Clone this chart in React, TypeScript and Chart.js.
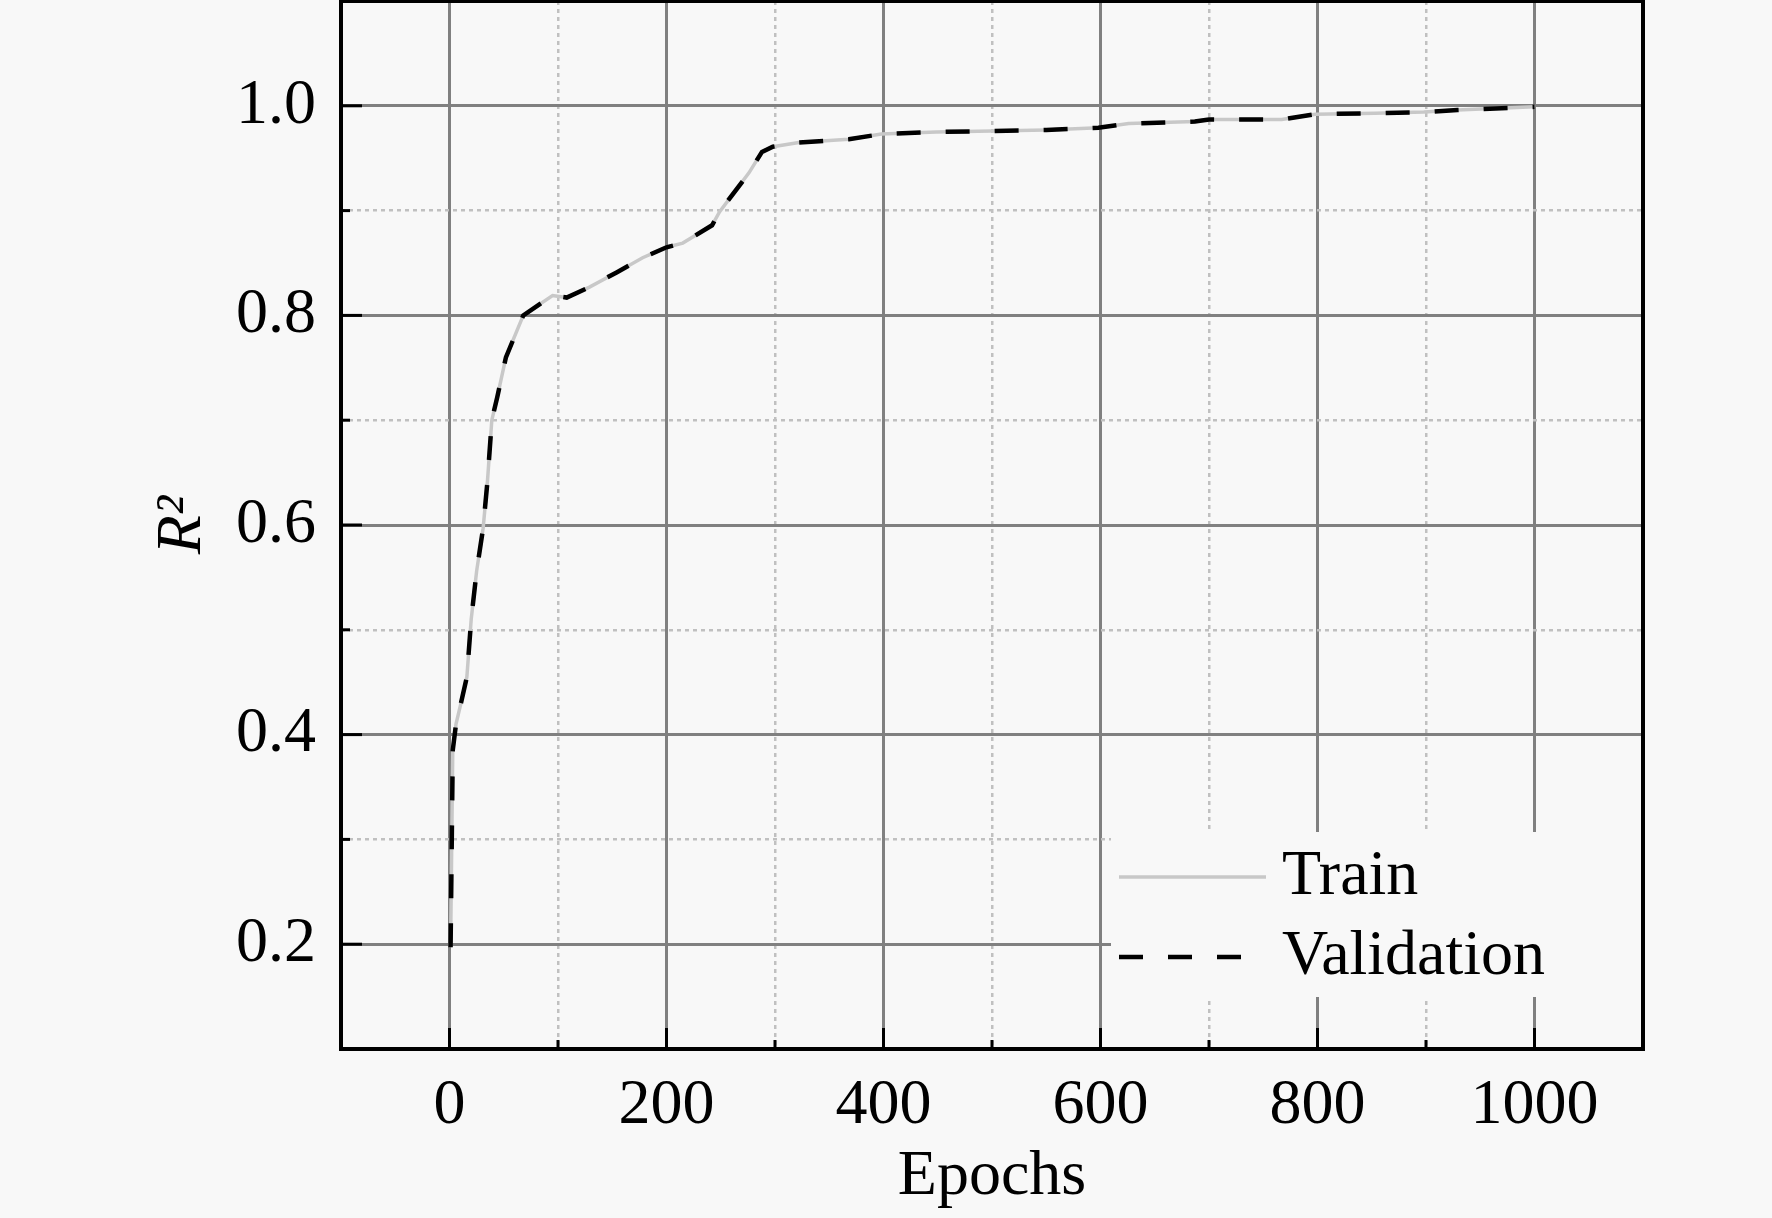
import { useEffect, useRef } from 'react';
import { Chart, registerables } from 'chart.js';
import type { Plugin } from 'chart.js';

Chart.register(...registerables);

// values
const epochs = [1, 2, 3, 6, 11, 16, 20, 25, 31, 35, 39, 44, 52, 68, 95, 108, 129, 154, 178, 200, 215, 242, 249, 276, 288, 298, 322, 368, 398, 449, 500, 550, 598, 626, 687, 700, 767, 798, 853, 898, 929, 1000];
const trainR2 = [0.197, 0.29, 0.385, 0.41, 0.432, 0.455, 0.51, 0.556, 0.597, 0.642, 0.7, 0.722, 0.76, 0.8, 0.819, 0.817, 0.827, 0.841, 0.855, 0.865, 0.869, 0.886, 0.899, 0.936, 0.956, 0.961, 0.965, 0.968, 0.973, 0.975, 0.976, 0.977, 0.979, 0.983, 0.985, 0.987, 0.987, 0.992, 0.993, 0.994, 0.996, 0.999];
const valR2 = [0.197, 0.29, 0.385, 0.41, 0.432, 0.455, 0.51, 0.556, 0.597, 0.642, 0.7, 0.722, 0.76, 0.8, 0.819, 0.817, 0.827, 0.841, 0.855, 0.865, 0.869, 0.886, 0.899, 0.936, 0.956, 0.961, 0.965, 0.968, 0.973, 0.975, 0.976, 0.977, 0.979, 0.983, 0.985, 0.987, 0.987, 0.992, 0.993, 0.994, 0.996, 0.999];

const xMajorTicks = [0, 200, 400, 600, 800, 1000];
const yMajorTicks = [0.2, 0.4, 0.6, 0.8, 1.0];
const xRange = [-100, 1100];
const yRange = [0.1, 1.1];

const FONT = "'Liberation Serif', 'Times New Roman', serif";
const BG = '#f8f8f8';

const near = (list: number[], v: number) => list.some((m) => Math.abs(m - v) < 1e-6);
const isEdge = (range: number[], v: number) => Math.abs(v - range[0]) < 1e-6 || Math.abs(v - range[1]) < 1e-6;

// inward ticks, frame and the legend inside the plot
const framePlugin: Plugin<'line'> = {
  id: 'frame',
  afterDraw(chart) {
    const { ctx, chartArea, scales } = chart;
    const { left, right, top, bottom } = chartArea;
    ctx.save();
    ctx.strokeStyle = '#000';
    ctx.lineWidth = 3;
    ctx.lineCap = 'butt';
    for (const t of scales.y.ticks) {
      if (isEdge(yRange, t.value)) continue;
      const len = near(yMajorTicks, t.value) ? 21 : 9;
      const py = scales.y.getPixelForValue(t.value);
      ctx.beginPath();
      ctx.moveTo(left, py);
      ctx.lineTo(left + len, py);
      ctx.stroke();
    }
    for (const t of scales.x.ticks) {
      if (isEdge(xRange, t.value)) continue;
      const len = near(xMajorTicks, t.value) ? 21 : 9;
      const px = scales.x.getPixelForValue(t.value);
      ctx.beginPath();
      ctx.moveTo(px, bottom);
      ctx.lineTo(px, bottom - len);
      ctx.stroke();
    }

    // legend
    const boxL = right - 532;
    const boxT = bottom - 217;
    ctx.fillStyle = BG;
    ctx.fillRect(boxL, boxT, right - 2 - boxL, 165);
    chart.data.datasets.forEach((ds: any, i: number) => {
      const ly = boxT + 45 + i * 80;
      ctx.save();
      ctx.strokeStyle = ds.borderColor;
      ctx.lineWidth = ds.borderWidth;
      ctx.setLineDash(ds.borderDash || []);
      ctx.beginPath();
      ctx.moveTo(boxL + 8, ly);
      ctx.lineTo(boxL + 155, ly);
      ctx.stroke();
      ctx.restore();
      ctx.fillStyle = '#000';
      ctx.font = `64px ${FONT}`;
      ctx.textBaseline = 'middle';
      ctx.textAlign = 'left';
      ctx.fillText(ds.label, boxL + 171, ly);
    });

    ctx.lineWidth = 4;
    ctx.strokeRect(left, top, right - left, bottom - top);
    ctx.restore();
  },
};

const noPad = (s: any) => {
  s.paddingTop = 0;
  s.paddingBottom = 0;
  s.paddingLeft = 0;
  s.paddingRight = 0;
};

export default function App() {
  const canvasRef = useRef<HTMLCanvasElement>(null);

  useEffect(() => {
    if (!canvasRef.current) return;
    const gridColor = (range: number[], majors: number[]) => (c: any) => {
      const v = c.tick?.value;
      if (v === undefined || isEdge(range, v)) return 'rgba(0,0,0,0)';
      return near(majors, v) ? '#808080' : '#c0c0c0';
    };
    const gridDash = (majors: number[]) => (c: any) => {
      const v = c.tick?.value;
      return v !== undefined && near(majors, v) ? [] : [4, 4];
    };
    const gridWidth = (majors: number[]) => (c: any) => {
      const v = c.tick?.value;
      return v !== undefined && near(majors, v) ? 3 : 2.5;
    };

    const chart = new Chart(canvasRef.current, {
      type: 'line',
      data: {
        datasets: [
          {
            label: 'Train',
            data: epochs.map((e, i) => ({ x: e, y: trainR2[i] })),
            borderColor: '#c8c8c8',
            borderWidth: 3.5,
            pointRadius: 0,
            tension: 0,
            order: 2,
          },
          {
            label: 'Validation',
            data: epochs.map((e, i) => ({ x: e, y: valR2[i] })),
            borderColor: '#000000',
            borderWidth: 4.5,
            borderDash: [24, 25],
            pointRadius: 0,
            tension: 0,
            order: 1,
          },
        ],
      },
      options: {
        responsive: true,
        maintainAspectRatio: false,
        animation: false,
        layout: { padding: { top: 1, right: 129, left: 0, bottom: 0 } },
        plugins: { legend: { display: false }, tooltip: { enabled: false } },
        scales: {
          x: {
            type: 'linear',
            min: xRange[0],
            max: xRange[1],
            afterFit: (s: any) => { s.height = 169; noPad(s); },
            ticks: {
              stepSize: 100,
              autoSkip: false,
              maxRotation: 0,
              padding: 19,
              color: '#000',
              font: { family: FONT, size: 64 },
              callback: (v: any) => (near(xMajorTicks, Number(v)) ? String(Math.round(Number(v))) : ''),
            },
            grid: {
              drawTicks: false,
              color: gridColor(xRange, xMajorTicks),
              lineWidth: gridWidth(xMajorTicks),
            },
            border: { display: false, dash: gridDash(xMajorTicks) },
            title: {
              display: true,
              text: 'Epochs',
              color: '#000',
              font: { family: FONT, size: 64 },
              padding: { top: 0, bottom: 2 },
            },
          },
          y: {
            type: 'linear',
            min: yRange[0],
            max: yRange[1],
            afterFit: (s: any) => { s.width = 341; noPad(s); },
            ticks: {
              stepSize: 0.1,
              autoSkip: false,
              padding: 25,
              color: '#000',
              font: { family: FONT, size: 64 },
              callback: (v: any) => (near(yMajorTicks, Number(v)) ? Number(v).toFixed(1) : ''),
            },
            grid: {
              drawTicks: false,
              color: gridColor(yRange, yMajorTicks),
              lineWidth: gridWidth(yMajorTicks),
            },
            border: { display: false, dash: gridDash(yMajorTicks) },
            title: {
              display: true,
              text: 'R²',
              color: '#000',
              font: { family: FONT, size: 64, style: 'italic' },
              padding: { top: 145, bottom: 0 },
            },
          },
        },
      },
      plugins: [framePlugin],
    });

    return () => {
      chart.destroy();
    };
  }, []);

  return (
    <div style={{ position: 'fixed', left: 0, top: 0, width: 1772, height: 1218, background: BG }}>
      <canvas ref={canvasRef} />
    </div>
  );
}
